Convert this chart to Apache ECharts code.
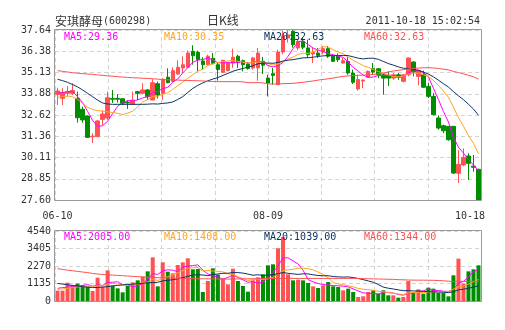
<!DOCTYPE html>
<html>
<head>
<meta charset="utf-8">
<script src="https://cdn.jsdelivr.net/npm/echarts@6/dist/echarts.min.js"></script>
<style>
  html, body { margin: 0; padding: 0; background: #fff; }
  #chart { width: 505px; height: 330px; }
</style>
</head>
<body>
<div id="chart"></div>
<script>
// 安琪酵母 (600298) daily K-line, 2011-06-10 .. 2011-10-18
const openPx = [
  33.84, 33.60, 33.90, 33.90, 33.60, 32.96, 32.56, 31.33, 31.34, 32.36,
  32.44, 33.60, 33.60, 33.58, 33.38, 33.25, 34.00, 33.90, 34.10, 33.50,
  34.47, 33.90, 34.85, 34.61, 35.04, 35.40, 35.44, 36.38, 36.32, 35.81,
  35.59, 35.97, 35.59, 35.14, 35.24, 35.69, 36.09, 35.83, 35.63, 35.40,
  35.40, 35.79, 34.80, 35.06, 34.41, 36.34, 37.17, 37.56, 36.58, 36.97,
  36.58, 36.22, 36.28, 36.34, 36.54, 36.09, 36.09, 35.69, 35.79, 35.10,
  34.16, 34.63, 34.85, 35.35, 35.35, 34.99, 34.95, 34.80, 34.99, 34.61,
  35.00, 35.75, 34.90, 35.00, 34.31, 33.72, 32.44, 31.99, 31.95, 31.95,
  29.18, 29.67, 30.20, 29.60, 29.41
];
const closePx = [
  34.04, 33.95, 33.99, 34.06, 32.46, 32.33, 31.30, 31.37, 32.27, 32.68,
  33.64, 33.55, 33.55, 33.31, 33.33, 33.50, 33.90, 34.10, 33.70, 34.53,
  33.80, 34.73, 34.53, 35.24, 35.44, 35.59, 36.28, 36.12, 35.89, 35.59,
  36.09, 35.65, 35.30, 35.85, 35.69, 36.03, 35.73, 35.59, 35.36, 35.99,
  36.28, 35.56, 34.51, 34.96, 36.34, 37.28, 37.35, 36.77, 36.97, 36.62,
  36.18, 36.34, 36.14, 36.54, 36.09, 35.79, 35.89, 35.83, 35.10, 34.55,
  34.71, 34.68, 35.20, 35.16, 34.99, 34.80, 34.80, 34.99, 34.85, 34.99,
  35.99, 35.16, 35.24, 34.26, 33.72, 32.64, 31.85, 31.69, 31.16, 29.19,
  29.71, 30.12, 29.77, 29.53, 27.60
];
const lowPx = [
  33.21, 33.20, 33.70, 33.80, 32.17, 32.17, 31.26, 30.97, 31.32, 32.03,
  32.33, 33.33, 33.35, 33.21, 32.98, 33.21, 33.50, 33.90, 33.50, 33.50,
  33.60, 33.50, 34.49, 34.57, 35.00, 35.10, 35.40, 35.59, 35.20, 35.30,
  35.55, 35.63, 34.65, 35.10, 35.20, 35.40, 35.40, 35.20, 35.30, 35.30,
  34.65, 35.04, 33.72, 34.41, 34.41, 36.20, 36.90, 36.60, 36.45, 36.50,
  35.99, 35.69, 35.99, 36.20, 35.99, 35.75, 35.75, 35.65, 35.00, 34.45,
  34.06, 34.20, 34.80, 35.00, 34.80, 33.82, 34.33, 34.70, 34.70, 34.55,
  34.90, 34.90, 34.37, 34.22, 33.62, 32.60, 31.75, 31.55, 31.10, 29.14,
  28.60, 29.60, 28.78, 29.27, 27.60
];
const highPx = [
  34.23, 34.20, 34.33, 34.50, 34.00, 33.11, 32.60, 31.55, 32.33, 32.90,
  34.00, 34.10, 33.86, 33.60, 33.50, 34.00, 34.05, 34.49, 34.15, 34.73,
  34.59, 34.79, 35.38, 35.44, 35.85, 36.09, 36.42, 36.74, 36.42, 36.03,
  36.18, 36.28, 35.73, 35.89, 35.75, 36.54, 36.18, 35.89, 35.75, 36.05,
  36.58, 36.05, 35.00, 35.40, 36.48, 37.60, 37.62, 37.64, 37.10, 37.20,
  37.07, 36.58, 36.58, 36.70, 36.70, 36.20, 36.25, 36.00, 36.03, 35.30,
  35.00, 34.72, 35.25, 35.69, 35.40, 35.10, 35.20, 35.10, 35.10, 35.05,
  35.99, 35.79, 35.30, 35.24, 34.51, 33.92, 32.60, 32.05, 31.95, 31.95,
  30.55, 30.65, 30.36, 30.26, 29.45
];
const volume = [
   670,  670, 1189, 1038, 1124, 1038,  930,  649, 1513,  930,
  1989,  995,  822,  562,  995, 1211, 1340, 1578, 1924, 2832,
   951, 2508, 1903, 1794, 2335, 2508, 2767, 2054, 2076,  584,
  1297, 2119, 1708, 1427, 1081, 2097, 1297,  973,  605, 1340,
  1535, 1730, 2313, 2378, 3420, 4150, 1730, 1340, 1380, 1340,
  1170,  950,  843, 1016, 1232,  951,  908,  692,  800,  584,
   259,  303,  584,  692,  476,  692,  368,  368,  216,  259,
  1297,  519,  757,  476,  865,  800,  519,  519,  303, 1665,
  2746, 1124, 1924, 2054, 2313
];

// Moving-average values for the first days, whose windows reach back before 06-10
const ma5Lead  = [33.90, 33.95, 34.00, 34.02];
const ma10Lead = [33.66, 33.70, 33.74, 33.70, 33.55, 33.30, 33.08, 32.95, 32.88];
const ma20Lead = [34.73, 34.65, 34.55, 34.42, 34.28, 34.10, 33.90, 33.70, 33.50, 33.33,
                  33.27, 33.25, 33.25, 33.25, 33.25, 33.25, 33.25, 33.25, 33.26];
const ma60Lead = [35.24, 35.20, 35.16, 35.12, 35.09, 35.06, 35.04, 35.02, 34.99, 34.96,
                  34.93, 34.91, 34.88, 34.86, 34.84, 34.82, 34.81, 34.79, 34.78, 34.76,
                  34.74, 34.71, 34.70, 34.69, 34.68, 34.67, 34.66, 34.65, 34.64, 34.63,
                  34.61, 34.60, 34.59, 34.59, 34.59, 34.59, 34.59, 34.58, 34.53, 34.53,
                  34.53, 34.52, 34.46, 34.45, 34.46, 34.47, 34.48, 34.49, 34.52, 34.55,
                  34.59, 34.63, 34.68, 34.72, 34.76, 34.80, 34.86, 34.90, 34.93];
const vma5Lead  = [820, 870, 900, 920];
const vma10Lead = [760, 790, 830, 870, 910, 940, 960, 970, 975];
const vma20Lead = [1140, 1100, 1050, 1010, 970, 930, 900, 870, 880, 900,
                   930, 980, 1010, 1040, 1070, 1090, 1120, 1150, 1180];
const vma60Lead = [2100, 2050, 2000, 1960, 1920, 1880, 1840, 1790, 1750, 1720,
                   1700, 1680, 1660, 1640, 1620, 1600, 1580, 1560, 1545, 1530,
                   1515, 1500, 1490, 1480, 1470, 1460, 1455, 1450, 1445, 1440,
                   1435, 1430, 1425, 1420, 1420, 1425, 1430, 1435, 1440, 1445,
                   1450, 1455, 1460, 1460, 1460, 1465, 1465, 1465, 1465, 1465,
                   1465, 1465, 1465, 1465, 1465, 1465, 1465, 1465, 1465];

// Axis tick labels
const priceTicks = ['27.60', '28.85', '30.11', '31.36', '32.62', '33.88', '35.13', '36.38', '37.64'];
const volTicks = ['0', '1135', '2270', '3405', '4540'];
const dateTicks = { 0: '06-10', 42: '08-09', 84: '10-18' };

// Header and legend texts
const stockTitle = '安琪酵母';
const stockCode = '(600298)';
const periodTitle = '日K线';
const stampText = '2011-10-18 15:02:54';
const priceLegend = ['MA5:29.36', 'MA10:30.35', 'MA20:32.63', 'MA60:32.63'];
const volLegend = ['MA5:2005.00', 'MA10:1408.00', 'MA20:1039.00', 'MA60:1344.00'];

const UP = '#ff5252';
const DOWN = '#008e00';
const MA_COLORS = ['#ff00ff', '#ffa520', '#0c3465', '#ff5050'];
const MONO = '"DejaVu Sans Mono", "Liberation Mono", monospace';
const CJK = '"Noto Sans CJK SC", "Noto Sans", sans-serif';

function movingAvg(values, n, lead) {
  const out = [];
  for (let i = 0; i < values.length; i++) {
    if (i < n - 1) { out.push(lead[i]); continue; }
    let s = 0;
    for (let k = i - n + 1; k <= i; k++) s += values[k];
    out.push(+(s / n).toFixed(3));
  }
  return out;
}

const days = closePx.map((_, i) => String(i));
const kData = closePx.map((c, i) => [openPx[i], c, lowPx[i], highPx[i]]);
const volData = volume.map((v, i) => ({
  value: v,
  itemStyle: { color: closePx[i] >= openPx[i] ? UP : DOWN }
}));

const priceMA = [
  movingAvg(closePx, 5, ma5Lead),
  movingAvg(closePx, 10, ma10Lead),
  movingAvg(closePx, 20, ma20Lead),
  movingAvg(closePx, 60, ma60Lead)
];
const volMA = [
  movingAvg(volume, 5, vma5Lead),
  movingAvg(volume, 10, vma10Lead),
  movingAvg(volume, 20, vma20Lead),
  movingAvg(volume, 60, vma60Lead)
];

const G0 = { left: 55, top: 30, width: 426, height: 170 };
const G1 = { left: 55, top: 231, width: 426, height: 70 };
const dashed = { show: true, lineStyle: { color: '#d4d4d4', type: [4, 3], width: 1 } };

function maLine(name, data, color, xi, yi) {
  return {
    name, type: 'line', data, xAxisIndex: xi, yAxisIndex: yi,
    symbol: 'none', smooth: false, z: 5,
    lineStyle: { color, width: 1 }, silent: true
  };
}

function legendTexts(texts, y) {
  return texts.map((t, k) => ({
    type: 'text', left: 64 + 100 * k, top: y, z: 20,
    style: { text: t, fill: MA_COLORS[k], font: '10px ' + MONO }
  }));
}

const option = {
  animation: false,
  backgroundColor: '#fff',
  grid: [G0, G1],
  xAxis: [
    {
      type: 'category', gridIndex: 0, data: days, boundaryGap: true,
      axisLine: { show: false }, axisTick: { show: false }, splitLine: { show: false },
      axisLabel: {
        interval: (i) => dateTicks[i] !== undefined,
        formatter: (v, i) => i === 84 ? '{e|' + dateTicks[i] + '}' : (dateTicks[i] || ''),
        margin: 11, color: '#333', fontFamily: MONO, fontSize: 10,
        rich: { e: { width: 47, align: 'left', color: '#333', fontFamily: MONO, fontSize: 10 } }
      }
    },
    {
      type: 'category', gridIndex: 1, data: days, boundaryGap: true,
      axisLine: { show: false }, axisTick: { show: false }, axisLabel: { show: false },
      splitLine: { show: false }
    },
    {
      type: 'value', gridIndex: 0, min: 0, max: 8, interval: 1, position: 'top',
      axisLine: { show: false }, axisTick: { show: false }, axisLabel: { show: false },
      splitLine: dashed
    },
    {
      type: 'value', gridIndex: 1, min: 0, max: 8, interval: 1, position: 'top',
      axisLine: { show: false }, axisTick: { show: false }, axisLabel: { show: false },
      splitLine: dashed
    }
  ],
  yAxis: [
    {
      type: 'value', gridIndex: 0, min: 27.6, max: 37.64, scale: true,
      axisLine: { show: false }, axisTick: { show: false }, axisLabel: { show: false },
      splitLine: { show: false }
    },
    {
      type: 'value', gridIndex: 0, min: 0, max: 8, interval: 1, position: 'left',
      axisLine: { show: false }, axisTick: { show: false },
      axisLabel: {
        formatter: (v) => priceTicks[Math.round(v)], margin: 4,
        color: '#333', fontFamily: MONO, fontSize: 10
      },
      splitLine: dashed
    },
    {
      type: 'value', gridIndex: 1, min: 0, max: 4540, interval: 1135,
      axisLine: { show: false }, axisTick: { show: false },
      axisLabel: {
        formatter: (v) => volTicks[Math.round(v / 1135)], margin: 4,
        color: '#333', fontFamily: MONO, fontSize: 10
      },
      splitLine: dashed
    }
  ],
  series: [
    {
      name: 'K', type: 'candlestick', data: kData, xAxisIndex: 0, yAxisIndex: 0,
      barWidth: 4, z: 3,
      itemStyle: { color: UP, color0: DOWN, borderColor: UP, borderColor0: DOWN, borderWidth: 1 }
    },
    maLine('MA5', priceMA[0], MA_COLORS[0], 0, 0),
    maLine('MA10', priceMA[1], MA_COLORS[1], 0, 0),
    maLine('MA20', priceMA[2], MA_COLORS[2], 0, 0),
    maLine('MA60', priceMA[3], MA_COLORS[3], 0, 0),
    {
      name: 'VOL', type: 'bar', data: volData, xAxisIndex: 1, yAxisIndex: 2,
      barWidth: 4, z: 3
    },
    maLine('VMA5', volMA[0], MA_COLORS[0], 1, 2),
    maLine('VMA10', volMA[1], MA_COLORS[1], 1, 2),
    maLine('VMA20', volMA[2], MA_COLORS[2], 1, 2),
    maLine('VMA60', volMA[3], MA_COLORS[3], 1, 2)
  ],
  graphic: [
    // plot frames
    { type: 'rect', z: 30, silent: true,
      shape: { x: G0.left - 0.5, y: G0.top - 0.5, width: G0.width + 1, height: G0.height + 1 },
      style: { fill: null, stroke: '#999', lineWidth: 1 } },
    { type: 'rect', z: 30, silent: true,
      shape: { x: G1.left - 0.5, y: G1.top - 0.5, width: G1.width + 1, height: G1.height + 1 },
      style: { fill: null, stroke: '#999', lineWidth: 1 } },
    // header
    { type: 'text', left: 55, top: 15, z: 20,
      style: { text: '{a|' + stockTitle + '}{b|' + stockCode + '}',
        rich: { a: { font: '12px ' + CJK, fill: '#333' }, b: { font: '10px ' + MONO, fill: '#333' } } } },
    { type: 'text', left: 207, top: 14, z: 20,
      style: { text: periodTitle, font: '12px ' + CJK, fill: '#333' } },
    { type: 'text', right: 25, top: 16, z: 20,
      style: { text: stampText, font: '10px ' + MONO, fill: '#333' } },
    ...legendTexts(priceLegend, 32),
    ...legendTexts(volLegend, 232)
  ]
};

const chart = echarts.init(document.getElementById('chart'), null, { renderer: 'canvas' });
chart.setOption(option);
</script>
</body>
</html>
